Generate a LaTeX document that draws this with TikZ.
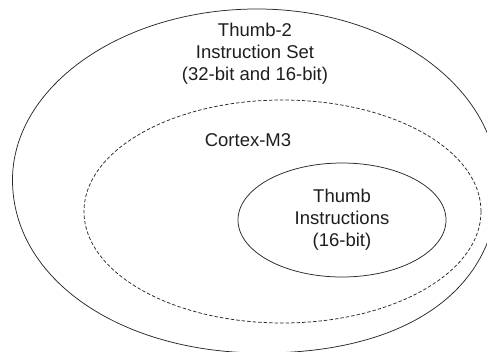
\documentclass[tikz,border=0pt]{standalone}
\usepackage{fontspec}
\setmainfont{Liberation Sans}
\usetikzlibrary{shapes.geometric, positioning}
\definecolor{setline}{RGB}{40,40,40}
\definecolor{settext}{RGB}{30,30,30}

\begin{document}
\begin{tikzpicture}[x=1pt, y=-1pt,
  setring/.style={ellipse, draw=setline, line width=0.75pt, inner sep=0pt},
  setlabel/.style={align=center, text=settext, font=\fontsize{18.5}{22}\selectfont, inner sep=0pt}
]
\useasboundingbox (0,0) rectangle (487,351);
\clip (0,0) rectangle (487,351);
% outer set, drawn by hand: it bulges a little to the lower right
\coordinate (tleft) at (12.5,180);
\coordinate (ttop) at (257,9);
\coordinate (tright) at (498,185);
\coordinate (tbottom) at (262,353);
\draw[setline, line width=0.75pt] (tleft)
  .. controls (12.5,86) and (122.5,9) .. (ttop)
  .. controls (390,9) and (498,88) .. (tright)
  .. controls (498,289) and (408,353) .. (tbottom)
  .. controls (120,353) and (12.5,279) .. (tleft) -- cycle;
% inner sets
\node[setring, dashed, dash pattern=on 3.5pt off 2pt, minimum width=397pt, minimum height=223pt] (cortex) at (282.5,211.5) {};
\node[setring, minimum width=208pt, minimum height=114pt] (thumb) at (342,220) {};
% labels
\node[setlabel] (thumbtwolbl) at (255,54) {Thumb-2\\Instruction Set\\(32-bit and 16-bit)};
\node[setlabel] (cortexlbl) at (248,140) {Cortex-M3};
\node[setlabel] (thumblbl) at (thumb) {Thumb\\Instructions\\(16-bit)};
\end{tikzpicture}
\end{document}
